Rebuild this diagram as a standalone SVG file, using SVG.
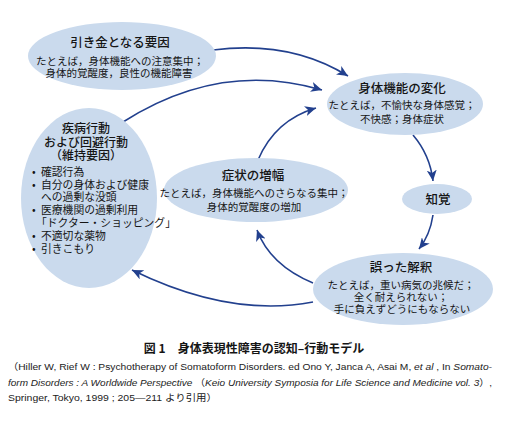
<svg xmlns="http://www.w3.org/2000/svg" width="509" height="421" viewBox="0 0 509 421">
<defs>
<style>
.node{fill:#cadaed;}
.t{font-family:"Noto Sans CJK JP","Noto Sans CJK SC",sans-serif;fill:#151515;text-anchor:middle;}
.h{font-size:12.5px;font-weight:500;}
.hs{font-size:12px;font-weight:500;}
.b{font-size:10.5px;}
.l{font-size:10.8px;text-anchor:start;}
.c{fill:none;stroke:#22408e;stroke-width:1.6;}
.cite{font-family:"Liberation Sans","Noto Sans CJK JP",sans-serif;font-size:9.6px;fill:#222;}
</style>
<marker id="ah" markerUnits="userSpaceOnUse" markerWidth="12" markerHeight="10" refX="11" refY="5" orient="auto">
<path d="M0,0 L11,5 L0,10 L3,5 Z" fill="#22408e"/>
</marker>
</defs>
<rect width="509" height="421" fill="#ffffff"/>

<g id="connectors">
<path class="c" d="M213,50 Q290,40 348,76" marker-end="url(#ah)"/>
<path class="c" d="M123,122 Q220,60 322,90" marker-end="url(#ah)"/>
<path class="c" d="M258,160 Q275,120 316,108" marker-end="url(#ah)"/>
<path class="c" d="M413,135 Q430,155 433,181" marker-end="url(#ah)"/>
<path class="c" d="M433,215 Q430,235 419,249" marker-end="url(#ah)"/>
<path class="c" d="M313,283 Q270,265 257,230" marker-end="url(#ah)"/>
<path class="c" d="M313,302 Q230,318 132,270" marker-end="url(#ah)"/>
</g>

<g id="trigger">
<ellipse class="node" cx="122" cy="56" rx="94" ry="34"/>
<text class="t h" x="120" y="47">引き金となる要因</text>
<text class="t b" x="120" y="65">たとえば，身体機能への注意集中；</text>
<text class="t b" x="119" y="77">身体的覚醒度，良性の機能障害</text>
</g>

<g id="change">
<ellipse class="node" cx="405" cy="104" rx="78" ry="31"/>
<text class="t h" x="402" y="93">身体機能の変化</text>
<text class="t b" x="402" y="109">たとえば，不愉快な身体感覚；</text>
<text class="t b" x="402" y="123">不快感；身体症状</text>
</g>

<g id="behavior">
<ellipse class="node" cx="89" cy="198" rx="68" ry="90"/>
<text class="t hs" x="86" y="133">疾病行動</text>
<text class="t hs" x="86" y="146.5">および回避行動</text>
<text class="t hs" x="86" y="160">（維持要因）</text>
<text class="t l" x="32" y="176">•<tspan x="41">確認行為</tspan></text>
<text class="t l" x="32" y="188.5">•<tspan x="41">自分の身体および健康</tspan></text>
<text class="t l" x="41" y="201">への過剰な没頭</text>
<text class="t l" x="32" y="214">•<tspan x="41">医療機関の過剰利用</tspan></text>
<text class="t l" x="36" y="226.5">「ドクター・ショッピング」</text>
<text class="t l" x="32" y="240">•<tspan x="41">不適切な薬物</tspan></text>
<text class="t l" x="32" y="252.5">•<tspan x="41">引きこもり</tspan></text>
</g>

<g id="amplify">
<ellipse class="node" cx="256" cy="190" rx="92" ry="32"/>
<text class="t h" x="253" y="180">症状の増幅</text>
<text class="t b" x="254" y="197">たとえば，身体機能へのさらなる集中；</text>
<text class="t b" x="254" y="211">身体的覚醒度の増加</text>
</g>

<g id="perception">
<ellipse class="node" cx="437" cy="199" rx="35" ry="15"/>
<text class="t h" x="438" y="204">知覚</text>
</g>

<g id="misinterpretation">
<ellipse class="node" cx="403" cy="289" rx="90" ry="36"/>
<text class="t h" x="401" y="272">誤った解釈</text>
<text class="t b" x="401" y="289">たとえば，重い病気の兆候だ；</text>
<text class="t b" x="401" y="301">全く耐えられない；</text>
<text class="t b" x="402" y="313">手に負えずどうにもならない</text>
</g>

<g id="caption">
<text class="t" x="254" y="353" font-size="12" font-weight="700">図 1　身体表現性障害の認知–行動モデル</text>
<text class="cite" x="8" y="370" textLength="484" lengthAdjust="spacingAndGlyphs">（Hiller W, Rief W : Psychotherapy of Somatoform Disorders. ed Ono Y, Janca A, Asai M, <tspan font-style="italic">et al</tspan> , In <tspan font-style="italic">Somato-</tspan></text>
<text class="cite" x="8" y="386" textLength="484" lengthAdjust="spacingAndGlyphs"><tspan font-style="italic">form Disorders : A Worldwide Perspective</tspan> （<tspan font-style="italic">Keio University Symposia for Life Science and Medicine vol. 3</tspan>）,</text>
<text class="cite" x="8" y="401" textLength="209" lengthAdjust="spacingAndGlyphs">Springer, Tokyo, 1999 ; 205—211 より引用）</text>
</g>
</svg>
